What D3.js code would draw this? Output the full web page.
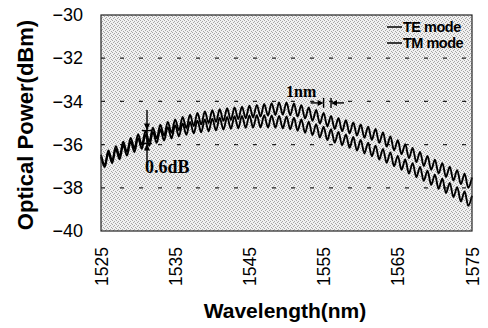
<!DOCTYPE html>
<html>
<head>
<meta charset="utf-8">
<script src="https://cdn.jsdelivr.net/npm/d3@7"></script>
<style>
  body { margin: 0; background: #fff; }
</style>
</head>
<body>
<div id="chart"></div>
<script>
// wavelength samples (nm): peaks on the whole nm, troughs half way
const wavelengths = [
    1525, 1525.5, 1526, 1526.5, 1527, 1527.5, 1528, 1528.5, 1529, 1529.5,
    1530, 1530.5, 1531, 1531.5, 1532, 1532.5, 1533, 1533.5, 1534, 1534.5,
    1535, 1535.5, 1536, 1536.5, 1537, 1537.5, 1538, 1538.5, 1539, 1539.5,
    1540, 1540.5, 1541, 1541.5, 1542, 1542.5, 1543, 1543.5, 1544, 1544.5,
    1545, 1545.5, 1546, 1546.5, 1547, 1547.5, 1548, 1548.5, 1549, 1549.5,
    1550, 1550.5, 1551, 1551.5, 1552, 1552.5, 1553, 1553.5, 1554, 1554.5,
    1555, 1555.5, 1556, 1556.5, 1557, 1557.5, 1558, 1558.5, 1559, 1559.5,
    1560, 1560.5, 1561, 1561.5, 1562, 1562.5, 1563, 1563.5, 1564, 1564.5,
    1565, 1565.5, 1566, 1566.5, 1567, 1567.5, 1568, 1568.5, 1569, 1569.5,
    1570, 1570.5, 1571, 1571.5, 1572, 1572.5, 1573, 1573.5, 1574, 1574.5,
    1575
];

const teMode = [
    -36.47, -36.93, -36.27, -36.73, -36.07, -36.53, -35.87, -36.34, -35.69, -36.17,
    -35.52, -36.00, -35.37, -35.86, -35.22, -35.71, -35.08, -35.58, -34.95, -35.45,
    -34.83, -35.34, -34.72, -35.23, -34.62, -35.14, -34.54, -35.07, -34.47, -35.00,
    -34.41, -34.95, -34.36, -34.90, -34.32, -34.86, -34.28, -34.82, -34.24, -34.78,
    -34.20, -34.74, -34.16, -34.70, -34.12, -34.66, -34.08, -34.63, -34.05, -34.61,
    -34.05, -34.64, -34.10, -34.70, -34.18, -34.79, -34.28, -34.90, -34.40, -35.03,
    -34.53, -35.16, -34.67, -35.28, -34.77, -35.38, -34.87, -35.48, -34.97, -35.58,
    -35.07, -35.68, -35.17, -35.78, -35.27, -35.92, -35.44, -36.09, -35.62, -36.27,
    -35.80, -36.45, -35.98, -36.63, -36.16, -36.81, -36.34, -36.99, -36.52, -37.17,
    -36.70, -37.34, -36.86, -37.50, -37.02, -37.66, -37.18, -37.83, -37.35, -38.00,
    -37.52
];

const tmMode = [
    -36.57, -37.04, -36.39, -36.86, -36.21, -36.68, -36.03, -36.51, -35.86, -36.34,
    -35.70, -36.19, -35.55, -36.05, -35.42, -35.92, -35.30, -35.81, -35.19, -35.71,
    -35.10, -35.62, -35.02, -35.55, -34.95, -35.48, -34.89, -35.43, -34.84, -35.38,
    -34.80, -35.34, -34.76, -35.30, -34.72, -35.27, -34.69, -35.24, -34.67, -35.22,
    -34.65, -35.21, -34.64, -35.20, -34.64, -35.21, -34.65, -35.22, -34.67, -35.25,
    -34.70, -35.29, -34.76, -35.36, -34.84, -35.45, -34.94, -35.56, -35.05, -35.67,
    -35.17, -35.79, -35.29, -35.91, -35.41, -36.03, -35.53, -36.15, -35.65, -36.28,
    -35.78, -36.41, -35.91, -36.54, -36.05, -36.69, -36.20, -36.84, -36.36, -37.00,
    -36.52, -37.17, -36.69, -37.34, -36.86, -37.51, -37.03, -37.68, -37.21, -37.86,
    -37.39, -38.05, -37.58, -38.24, -37.77, -38.43, -37.97, -38.63, -38.17, -38.83,
    -38.37
];

const seriesNames = ["TE mode", "TM mode"];
const xTicks = [1525, 1535, 1545, 1555, 1565, 1575];
const yTicks = [-40, -38, -36, -34, -32, -30];
const gridLevels = [-38, -36, -34, -32];

// annotations
const periodMarks = [1555, 1556];      // the "1nm" marker
const periodLevel = -34.07;
const dipWavelength = 1531.2;          // the "0.6dB" marker
const dipLevels = [-35.35, -35.95];

const width = 488, height = 328;
const plot = { left: 101, right: 472, top: 15, bottom: 231 };

const svg = d3.select("#chart")
    .append("svg")
    .attr("width", width)
    .attr("height", height);

// halftone-ish grey fill of the plot area
const pat = svg.append("defs").append("pattern")
    .attr("id", "stipple")
    .attr("width", 4).attr("height", 4)
    .attr("patternUnits", "userSpaceOnUse");
pat.append("rect").attr("width", 4).attr("height", 4).attr("fill", "#f1f1f1");
[[0, 0], [2, 1], [1, 2], [3, 3]].forEach(p => {
    pat.append("rect").attr("x", p[0]).attr("y", p[1])
        .attr("width", 1).attr("height", 1).attr("fill", "#a6a6a6");
});

const x = d3.scaleLinear().domain([1525, 1575]).range([plot.left, plot.right]);
const y = d3.scaleLinear().domain([-40, -30]).range([plot.bottom, plot.top]);

svg.append("rect")
    .attr("x", plot.left).attr("y", plot.top)
    .attr("width", plot.right - plot.left)
    .attr("height", plot.bottom - plot.top)
    .attr("fill", "url(#stipple)");

// dashed grid
svg.selectAll("line.grid")
    .data(gridLevels)
    .join("line")
    .attr("class", "grid")
    .attr("x1", plot.left).attr("x2", plot.right)
    .attr("y1", d => y(d)).attr("y2", d => y(d))
    .attr("stroke", "#222")
    .attr("stroke-width", 1.3)
    .attr("stroke-dasharray", "4,15");

// curves
const line = d3.line()
    .x((d, i) => x(wavelengths[i]))
    .y(d => y(d))
    .curve(d3.curveCatmullRom);

svg.selectAll("path.curve")
    .data([teMode, tmMode])
    .join("path")
    .attr("class", "curve")
    .attr("d", line)
    .attr("fill", "none")
    .attr("stroke", "#000")
    .attr("stroke-width", 1.9);

// border
svg.append("rect")
    .attr("x", plot.left).attr("y", plot.top)
    .attr("width", plot.right - plot.left)
    .attr("height", plot.bottom - plot.top)
    .attr("fill", "none")
    .attr("stroke", "#222")
    .attr("stroke-width", 1.2);

// axes
const yAxis = svg.append("g")
    .attr("transform", `translate(${plot.left},0)`)
    .call(d3.axisLeft(y).tickValues(yTicks).tickSize(0).tickPadding(18));
yAxis.select(".domain").remove();
yAxis.selectAll("text")
    .style("font-family", "'Liberation Sans', Arial, sans-serif")
    .style("font-size", "18px")
    .attr("fill", "#000");

const xAxis = svg.append("g")
    .attr("transform", `translate(0,${plot.bottom})`)
    .call(d3.axisBottom(x).tickValues(xTicks).tickSize(0).tickFormat(d3.format("d")));
xAxis.select(".domain").remove();
xAxis.selectAll("text")
    .attr("transform", "rotate(-90)")
    .attr("x", -16)
    .attr("y", 0)
    .attr("dy", "0.35em")
    .style("text-anchor", "end")
    .style("font-family", "'Liberation Sans', Arial, sans-serif")
    .style("font-size", "17.5px")
    .attr("fill", "#000");

// axis titles
svg.append("text")
    .attr("x", 285).attr("y", 318)
    .attr("text-anchor", "middle")
    .style("font-family", "'Liberation Sans', Arial, sans-serif")
    .style("font-size", "21px")
    .style("font-weight", "bold")
    .text("Wavelength(nm)");

svg.append("text")
    .attr("transform", "translate(33,125) rotate(-90)")
    .attr("text-anchor", "middle")
    .style("font-family", "'Liberation Sans', Arial, sans-serif")
    .style("font-size", "22px")
    .style("font-weight", "bold")
    .text("Optical Power(dBm)");

// legend
const legend = svg.append("g")
    .selectAll("g")
    .data(seriesNames)
    .join("g")
    .attr("transform", (d, i) => `translate(387,${27 + i * 16})`);
legend.append("line")
    .attr("x1", 0).attr("x2", 15)
    .attr("stroke", "#000").attr("stroke-width", 1.5);
legend.append("text")
    .attr("x", 16).attr("dy", "0.35em")
    .style("font-family", "'Liberation Sans', Arial, sans-serif")
    .style("font-size", "14.5px")
    .style("font-weight", "bold")
    .style("letter-spacing", "-0.5px")
    .text(d => d);

// "1nm" marker
const serif = "'Liberation Serif', 'Times New Roman', serif";
const py = y(periodLevel);
svg.append("text")
    .attr("x", 286).attr("y", py - 6)
    .style("font-family", serif)
    .style("font-size", "16px")
    .style("font-weight", "bold")
    .text("1nm");

const ann = svg.append("g").attr("stroke", "#000").attr("stroke-width", 1.4).attr("fill", "#000");
periodMarks.forEach((w, i) => {
    const bx = x(w);
    const dir = i === 0 ? -1 : 1;   // arrow comes from the left for the first bar
    ann.append("line").attr("x1", bx).attr("x2", bx).attr("y1", py - 5).attr("y2", py + 5);
    ann.append("line").attr("x1", bx + dir * 13).attr("x2", bx + dir * 3).attr("y1", py).attr("y2", py);
    ann.append("path")
        .attr("stroke", "none")
        .attr("d", `M${bx},${py}L${bx + dir * 6},${py - 3}L${bx + dir * 6},${py + 3}Z`);
});

// "0.6dB" marker
const dx = x(dipWavelength);
ann.append("line").attr("x1", dx).attr("x2", dx).attr("y1", 110).attr("y2", 166);
dipLevels.forEach((v, i) => {
    const ly = y(v);
    const dir = i === 0 ? -1 : 1;   // top arrow points down, bottom arrow points up
    ann.append("line").attr("x1", dx - 5).attr("x2", dx + 5).attr("y1", ly).attr("y2", ly);
    ann.append("path")
        .attr("stroke", "none")
        .attr("d", `M${dx},${ly}L${dx - 3},${ly + dir * 7}L${dx + 3},${ly + dir * 7}Z`);
});
svg.append("text")
    .attr("x", 145).attr("y", 173)
    .style("font-family", serif)
    .style("font-size", "18px")
    .style("font-weight", "bold")
    .text("0.6dB");
</script>
</body>
</html>
